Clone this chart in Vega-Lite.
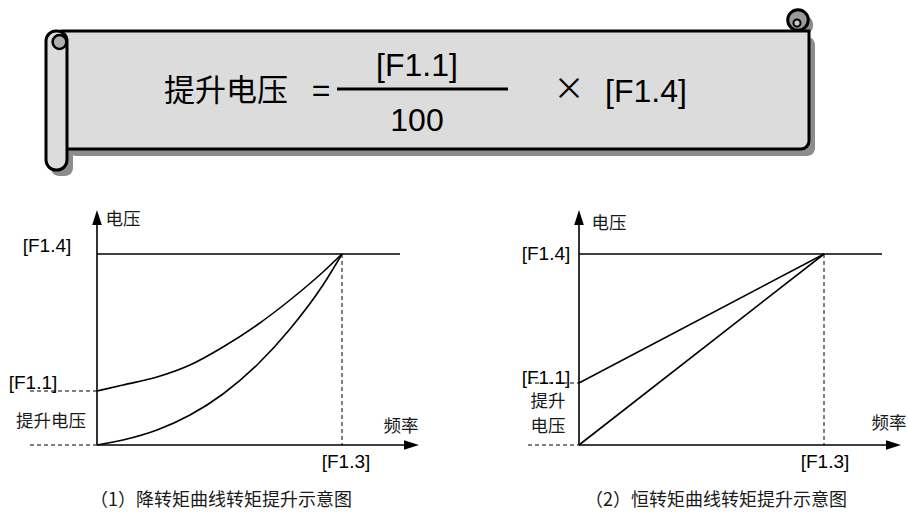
{
  "$schema": "https://vega.github.io/schema/vega-lite/v6.json",
  "width": 908,
  "height": 513,
  "autosize": "none",
  "padding": 0,
  "background": "white",
  "config": {"view": {"stroke": null}},
  "datasets": {
    "sheet": [
      {"part": "shadow_sheet", "x": 68, "x2": 815, "y": 37, "y2": 156},
      {"part": "shadow_roll", "x": 51, "x2": 73, "y": 37, "y2": 176},
      {"part": "sheet", "x": 62, "x2": 809, "y": 31, "y2": 149},
      {"part": "roll", "x": 46, "x2": 67, "y": 31, "y2": 170}
    ],
    "curls": [
      {"part": "shadow", "x": 803, "y": 25},
      {"part": "right", "x": 798, "y": 20},
      {"part": "right_inner", "x": 797, "y": 23},
      {"part": "left", "x": 59.5, "y": 42}
    ],
    "solid": [
      {"panel": "banner", "x": 337, "x2": 508, "y": 89, "y2": 89},
      {"panel": 1, "x": 97, "x2": 97, "y": 445, "y2": 214},
      {"panel": 1, "x": 97, "x2": 406, "y": 445, "y2": 445},
      {"panel": 1, "x": 97, "x2": 400, "y": 254, "y2": 254},
      {"panel": 2, "x": 579, "x2": 579, "y": 445, "y2": 214},
      {"panel": 2, "x": 579, "x2": 888, "y": 445, "y2": 445},
      {"panel": 2, "x": 579, "x2": 882, "y": 254, "y2": 254},
      {"panel": 2, "x": 579, "x2": 824, "y": 383, "y2": 254},
      {"panel": 2, "x": 579, "x2": 824, "y": 445, "y2": 254}
    ],
    "dashed": [
      {"panel": 1, "x": 30, "x2": 97, "y": 391, "y2": 391},
      {"panel": 1, "x": 30, "x2": 97, "y": 445, "y2": 445},
      {"panel": 1, "x": 342, "x2": 342, "y": 254, "y2": 445},
      {"panel": 2, "x": 528, "x2": 579, "y": 383, "y2": 383},
      {"panel": 2, "x": 528, "x2": 579, "y": 445, "y2": 445},
      {"panel": 2, "x": 824, "x2": 824, "y": 254, "y2": 445}
    ],
    "curves": [
      {"series": "upper", "x": 97, "y": 391},
      {"series": "upper", "x": 123, "y": 385},
      {"series": "upper", "x": 157, "y": 377},
      {"series": "upper", "x": 190, "y": 365},
      {"series": "upper", "x": 223, "y": 347},
      {"series": "upper", "x": 257, "y": 325},
      {"series": "upper", "x": 290, "y": 300},
      {"series": "upper", "x": 323, "y": 272},
      {"series": "upper", "x": 342, "y": 254},
      {"series": "lower", "x": 97, "y": 445},
      {"series": "lower", "x": 123, "y": 440},
      {"series": "lower", "x": 157, "y": 430},
      {"series": "lower", "x": 190, "y": 415},
      {"series": "lower", "x": 223, "y": 394},
      {"series": "lower", "x": 257, "y": 365},
      {"series": "lower", "x": 290, "y": 329},
      {"series": "lower", "x": 323, "y": 285},
      {"series": "lower", "x": 342, "y": 254}
    ],
    "arrows": [
      {"dir": "up", "x": 97, "y": 210},
      {"dir": "up", "x": 579, "y": 210},
      {"dir": "right", "x": 419, "y": 445},
      {"dir": "right", "x": 901, "y": 445}
    ],
    "texts": [
      {"where": "banner", "script": "cjk", "label": "提升电压", "x": 226, "y": 92},
      {"where": "banner", "script": "latin", "label": "=", "x": 321, "y": 91},
      {"where": "banner", "script": "latin", "label": "[F1.1]", "x": 417, "y": 66},
      {"where": "banner", "script": "latin", "label": "100", "x": 417, "y": 121},
      {"where": "banner", "script": "cjk", "label": "×", "x": 569, "y": 90},
      {"where": "banner", "script": "latin", "label": "[F1.4]", "x": 646, "y": 92},
      {"where": "panel", "script": "cjk", "label": "电压", "x": 123, "y": 220},
      {"where": "panel", "script": "latin", "label": "[F1.4]", "x": 47, "y": 246},
      {"where": "panel", "script": "latin", "label": "[F1.1]", "x": 33, "y": 383},
      {"where": "panel", "script": "cjk", "label": "提升电压", "x": 51, "y": 422},
      {"where": "panel", "script": "cjk", "label": "频率", "x": 401, "y": 427},
      {"where": "panel", "script": "latin", "label": "[F1.3]", "x": 346, "y": 462},
      {"where": "caption", "script": "cjk", "label": "（1）降转矩曲线转矩提升示意图", "x": 221, "y": 501},
      {"where": "panel", "script": "cjk", "label": "电压", "x": 609, "y": 224},
      {"where": "panel", "script": "latin", "label": "[F1.4]", "x": 546, "y": 254},
      {"where": "panel", "script": "latin", "label": "[F1.1]", "x": 546, "y": 378},
      {"where": "panel", "script": "cjk", "label": "提升", "x": 548, "y": 402},
      {"where": "panel", "script": "cjk", "label": "电压", "x": 548, "y": 427},
      {"where": "panel", "script": "cjk", "label": "频率", "x": 889, "y": 424},
      {"where": "panel", "script": "latin", "label": "[F1.3]", "x": 825, "y": 462},
      {"where": "caption", "script": "cjk", "label": "（2）恒转矩曲线转矩提升示意图", "x": 716, "y": 501}
    ]
  },
  "encoding": {
    "x": {"field": "x", "type": "quantitative", "scale": {"domain": [0, 908], "nice": false, "zero": false}, "axis": null},
    "y": {"field": "y", "type": "quantitative", "scale": {"domain": [0, 513], "nice": false, "zero": false, "reverse": true}, "axis": null}
  },
  "layer": [
    {
      "data": {"name": "sheet"},
      "transform": [{"filter": "indexof(datum.part, 'shadow') === 0"}],
      "mark": {"type": "rect", "fill": "#8c8c8c", "cornerRadius": 8},
      "encoding": {"x2": {"field": "x2"}, "y2": {"field": "y2"}}
    },
    {
      "data": {"name": "curls"},
      "transform": [{"filter": "datum.part === 'shadow'"}],
      "mark": {"type": "point", "shape": "circle", "filled": true, "fill": "#8c8c8c", "opacity": 1, "size": 420}
    },
    {
      "data": {"name": "sheet"},
      "transform": [{"filter": "datum.part === 'sheet'"}],
      "mark": {"type": "rect", "fill": "#dcdcdc", "stroke": "black", "strokeWidth": 3, "cornerRadiusBottomRight": 8},
      "encoding": {"x2": {"field": "x2"}, "y2": {"field": "y2"}}
    },
    {
      "data": {"name": "sheet"},
      "transform": [{"filter": "datum.part === 'roll'"}],
      "mark": {"type": "rect", "fill": "#dcdcdc", "stroke": "black", "strokeWidth": 3, "cornerRadius": 10},
      "encoding": {"x2": {"field": "x2"}, "y2": {"field": "y2"}}
    },
    {
      "data": {"name": "curls"},
      "transform": [{"filter": "datum.part === 'right'"}],
      "mark": {"type": "point", "shape": "circle", "filled": true, "fill": "#9a9a9a", "stroke": "black", "strokeWidth": 3, "opacity": 1, "size": 420}
    },
    {
      "data": {"name": "curls"},
      "transform": [{"filter": "datum.part === 'right_inner'"}],
      "mark": {"type": "point", "shape": "circle", "filled": true, "fill": "#c8c8c8", "stroke": "black", "strokeWidth": 2, "opacity": 1, "size": 50}
    },
    {
      "data": {"name": "curls"},
      "transform": [{"filter": "datum.part === 'left'"}],
      "mark": {"type": "point", "shape": "circle", "filled": true, "fill": "#b0b0b0", "stroke": "black", "strokeWidth": 2.5, "opacity": 1, "size": 190}
    },
    {
      "data": {"name": "solid"},
      "transform": [{"filter": "datum.panel === 'banner'"}],
      "mark": {"type": "rule", "stroke": "black", "strokeWidth": 3},
      "encoding": {"x2": {"field": "x2"}, "y2": {"field": "y2"}}
    },
    {
      "data": {"name": "solid"},
      "transform": [{"filter": "datum.panel !== 'banner'"}],
      "mark": {"type": "rule", "stroke": "black", "strokeWidth": 1.6},
      "encoding": {"x2": {"field": "x2"}, "y2": {"field": "y2"}}
    },
    {
      "data": {"name": "dashed"},
      "mark": {"type": "rule", "stroke": "black", "strokeWidth": 1, "strokeDash": [4, 3]},
      "encoding": {"x2": {"field": "x2"}, "y2": {"field": "y2"}}
    },
    {
      "data": {"name": "curves"},
      "mark": {"type": "line", "stroke": "black", "strokeWidth": 1.6, "interpolate": "monotone"},
      "encoding": {"detail": {"field": "series"}}
    },
    {
      "data": {"name": "arrows"},
      "transform": [{"filter": "datum.dir === 'up'"}],
      "mark": {"type": "point", "shape": "M0,0L-0.32,1L0.32,1Z", "filled": true, "fill": "black", "opacity": 1, "size": 900}
    },
    {
      "data": {"name": "arrows"},
      "transform": [{"filter": "datum.dir === 'right'"}],
      "mark": {"type": "point", "shape": "M0,0L-1,-0.32L-1,0.32Z", "filled": true, "fill": "black", "opacity": 1, "size": 900}
    },
    {
      "data": {"name": "texts"},
      "transform": [{"filter": "datum.where === 'banner' && datum.script === 'latin'"}],
      "mark": {"type": "text", "font": "Liberation Sans", "fontSize": 32, "align": "center", "baseline": "middle", "fill": "black"},
      "encoding": {"text": {"field": "label"}}
    },
    {
      "data": {"name": "texts"},
      "transform": [{"filter": "datum.where === 'banner' && datum.script === 'cjk'"}],
      "mark": {"type": "text", "font": "Noto Sans CJK SC", "fontSize": 31, "align": "center", "baseline": "middle", "fill": "black"},
      "encoding": {"text": {"field": "label"}}
    },
    {
      "data": {"name": "texts"},
      "transform": [{"filter": "datum.where === 'panel' && datum.script === 'latin'"}],
      "mark": {"type": "text", "font": "Liberation Sans", "fontSize": 19, "align": "center", "baseline": "middle", "fill": "black"},
      "encoding": {"text": {"field": "label"}}
    },
    {
      "data": {"name": "texts"},
      "transform": [{"filter": "datum.where === 'panel' && datum.script === 'cjk'"}],
      "mark": {"type": "text", "font": "Noto Sans CJK SC", "fontSize": 17.5, "align": "center", "baseline": "middle", "fill": "#1a1a1a"},
      "encoding": {"text": {"field": "label"}}
    },
    {
      "data": {"name": "texts"},
      "transform": [{"filter": "datum.where === 'caption'"}],
      "mark": {"type": "text", "font": "Noto Sans CJK SC", "fontSize": 18, "align": "center", "baseline": "middle", "fill": "#1a1a1a"},
      "encoding": {"text": {"field": "label"}}
    }
  ]
}
